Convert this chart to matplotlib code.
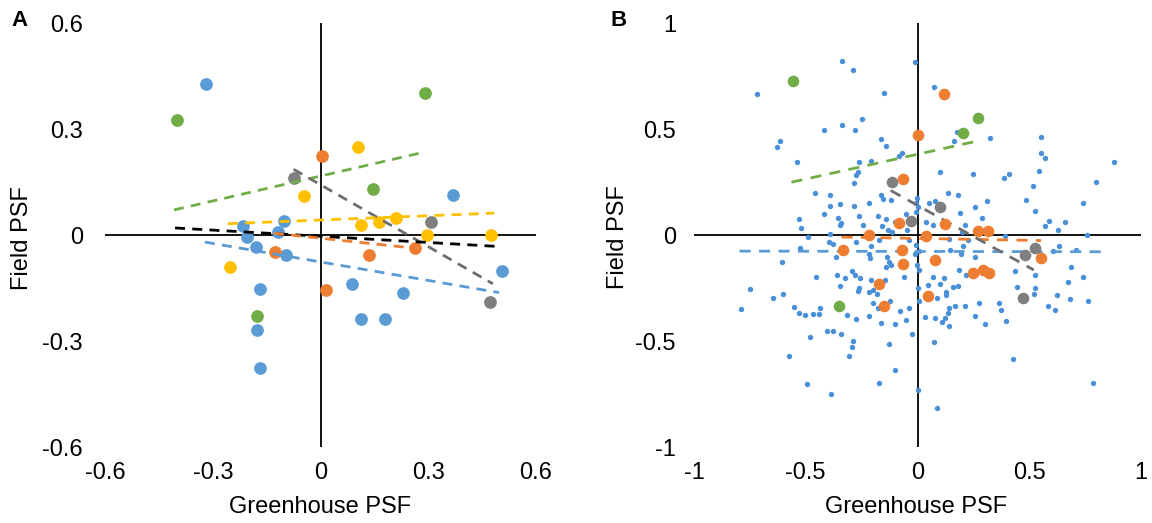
import matplotlib
matplotlib.use("Agg")
import matplotlib.pyplot as plt

plt.rcParams['font.family'] = ['Liberation Sans', 'DejaVu Sans']

# ---------------- Panel A data ----------------
a_blue_x = [-0.318, -0.215, -0.204, -0.179, -0.102, -0.118, -0.097, -0.168, -0.178, -0.169,
            0.088, 0.113, 0.180, 0.230, 0.368, 0.506]
a_blue_y = [0.427, 0.026, -0.007, -0.033, 0.041, 0.008, -0.058, -0.154, -0.270, -0.377,
            -0.138, -0.239, -0.239, -0.165, 0.113, -0.103]
a_green_x = [-0.400, 0.290, 0.146, -0.178]
a_green_y = [0.326, 0.402, 0.131, -0.228]
a_orange_x = [0.004, -0.128, 0.136, 0.262, 0.014]
a_orange_y = [0.223, -0.048, -0.058, -0.037, -0.156]
a_yellow_x = [0.104, -0.045, 0.114, 0.162, 0.209, 0.297, 0.475, -0.253]
a_yellow_y = [0.250, 0.109, 0.027, 0.036, 0.049, 0.000, 0.000, -0.091]
a_gray_x = [-0.074, 0.307, 0.473]
a_gray_y = [0.160, 0.038, -0.190]

# trend lines A: (x start, x end), (y start, y end)
a_trend_names = ['green', 'gray', 'yellow', 'black', 'orange', 'blue']
a_trend_x0 = [-0.408, -0.075, -0.258, -0.405, -0.130, -0.322]
a_trend_x1 = [0.282, 0.480, 0.484, 0.486, 0.268, 0.497]
a_trend_y0 = [0.071, 0.186, 0.032, 0.020, 0.005, -0.020]
a_trend_y1 = [0.233, -0.138, 0.062, -0.032, -0.038, -0.163]

# ---------------- Panel B data ----------------
b_blue_x = [
    -0.339, -0.290, -0.720, -0.151, -0.250, -0.418, -0.339, -0.278, -0.162, -0.140,
    -0.617, -0.628, -0.541, -0.260, -0.208, -0.265, -0.275, -0.085,
    -0.011, 0.072, 0.177, 0.162, 0.324, 0.554, 0.554, 0.570, -0.071, 0.102, 0.247, 0.408, 0.542,
    -0.284, -0.457, -0.390, -0.163, -0.153, -0.120, -0.217, -0.348, -0.390, -0.284,
    -0.420, -0.356, -0.263, -0.175, -0.142, -0.529, -0.341, -0.345, -0.520, -0.243,
    -0.160, -0.133, -0.114, -0.390, -0.490, -0.396, -0.378, -0.274, -0.174, -0.207,
    -0.524, -0.365, -0.218, -0.211, -0.135, -0.126, -0.141, -0.120, -0.605, -0.293,
    -0.278, -0.256, -0.360, -0.324, -0.453, -0.348, -0.263, -0.207, -0.147, -0.751,
    -0.647, -0.603, -0.790, -0.554, -0.530, -0.505, -0.469, -0.439, -0.436, -0.266,
    -0.218, -0.200, -0.181, -0.198, -0.175, -0.122, -0.315, -0.274, -0.216, -0.163,
    -0.102, -0.405, -0.378, -0.344, -0.482, -0.287, -0.293, -0.306, -0.576, -0.128,
    -0.101, -0.496, -0.386, -0.171,
    0.386, 0.515, 0.138, 0.180, 0.310, 0.485, -0.002, 0.050, 0.080, 0.001,
    -0.007, 0.259, 0.190, 0.289, 0.527, 0.661, 0.590, 0.569, 0.630, -0.102,
    -0.047, 0.142, 0.225, 0.393, 0.202, 0.147, 0.005, 0.257, 0.632, 0.608,
    -0.002, 0.008, 0.068, 0.117, 0.157, 0.184, 0.217, 0.436, 0.527, 0.672, 0.048,
    0.004, 0.128, 0.128, 0.444, 0.524, 0.521, 0.623, 0.684, -0.078, -0.038,
    0.005, 0.086, 0.142, 0.136, 0.122, 0.078, 0.110, 0.169, 0.214, 0.275,
    0.366, 0.374, 0.259, 0.301, 0.396, 0.142, 0.032, -0.051, 0.584, 0.614,
    -0.026, 0.072, 0.429, 0.001, 0.086,
    0.877, 0.797, 0.742, 0.757, 0.708, 0.686, 0.742, 0.761, 0.786,
    -0.007, 0.068, 0.199, 0.214, -0.037, -0.007, -0.012, 0.195, 0.100, 0.180,
    -0.060, -0.050, 0.040]
b_blue_y = [
    0.821, 0.779, 0.667, 0.670, 0.545, 0.496, 0.517, 0.496, 0.454, 0.419,
    0.444, 0.417, 0.344, 0.342, 0.349, 0.296, 0.285, 0.373,
    0.816, 0.700, 0.484, 0.444, 0.457, 0.462, 0.385, 0.363, 0.388, 0.295, 0.287, 0.286, 0.303,
    0.245, 0.198, 0.188, 0.187, 0.168, 0.166, 0.151, 0.146, 0.135, 0.138,
    0.100, 0.082, 0.091, 0.091, 0.074, 0.077, 0.058, 0.046, 0.033, 0.046,
    0.044, 0.022, 0.016, 0.006, -0.008, -0.033, -0.041, -0.032, -0.025, -0.052,
    -0.063, -0.105, -0.089, -0.110, -0.105, -0.129, -0.149, -0.141, -0.127, -0.168,
    -0.188, -0.204, -0.190, -0.201, -0.198, -0.239, -0.251, -0.213, -0.213, -0.253,
    -0.295, -0.276, -0.350, -0.338, -0.366, -0.378, -0.371, -0.371, -0.342, -0.262,
    -0.270, -0.258, -0.278, -0.323, -0.345, -0.311, -0.375, -0.397, -0.380, -0.413,
    -0.418, -0.451, -0.454, -0.465, -0.480, -0.498, -0.526, -0.570, -0.572, -0.512,
    -0.635, -0.702, -0.752, -0.696,
    0.267, 0.231, 0.196, 0.190, 0.162, 0.166, 0.174, 0.149, 0.162, 0.130,
    0.107, 0.133, 0.105, 0.082, 0.113, 0.060, 0.068, 0.044, 0.022, 0.060,
    0.022, -0.020, -0.024, -0.003, -0.050, -0.071, -0.077, -0.102, -0.052, -0.075,
    -0.141, -0.165, -0.197, -0.204, -0.246, -0.165, -0.187, -0.168, -0.190, -0.223, -0.236,
    -0.248, -0.270, -0.283, -0.243, -0.251, -0.278, -0.284, -0.300, -0.358, -0.344,
    -0.311, -0.298, -0.342, -0.367, -0.392, -0.392, -0.411, -0.333, -0.333, -0.323,
    -0.322, -0.355, -0.380, -0.419, -0.404, -0.427, -0.388, -0.402, -0.334, -0.355,
    -0.469, -0.507, -0.584, -0.733, -0.816,
    0.342, 0.249, 0.153, 0.000, -0.071, -0.151, -0.198, -0.312, -0.696,
    0.149, 0.047, 0.013, 0.047, -0.024, -0.047, -0.090, -0.090, -0.230, -0.240,
    -0.200, 0.100, 0.060]

b_green_x = [-0.557, 0.271, 0.204, -0.353]
b_green_y = [0.728, 0.553, 0.482, -0.337]
b_orange_x = [0.118, 0.002, -0.064, -0.082, 0.124, -0.217, 0.039, 0.271, 0.317, -0.335,
              -0.069, -0.065, 0.078, 0.248, 0.291, 0.320, -0.173, -0.150, 0.046, 0.552]
b_orange_y = [0.666, 0.474, 0.265, 0.057, 0.050, 0.002, -0.005, 0.017, 0.020, -0.072,
              -0.072, -0.139, -0.118, -0.178, -0.165, -0.181, -0.233, -0.335, -0.290, -0.110]
b_gray_x = [-0.113, -0.029, 0.100, 0.480, 0.525, 0.474]
b_gray_y = [0.252, 0.065, 0.134, -0.093, -0.060, -0.296]

b_trend_names = ['blue', 'orange', 'green', 'gray']
b_trend_x0 = [-0.796, -0.340, -0.564, -0.120]
b_trend_x1 = [0.830, 0.553, 0.258, 0.520]
b_trend_y0 = [-0.076, -0.010, 0.249, 0.210]
b_trend_y1 = [-0.079, -0.026, 0.441, -0.165]

a_ticks = [-0.6, -0.3, 0, 0.3, 0.6]
a_ticklabels = ['-0.6', '-0.3', '0', '0.3', '0.6']
b_ticks = [-1, -0.5, 0, 0.5, 1]
b_ticklabels = ['-1', '-0.5', '0', '0.5', '1']

# ---------------- styling ----------------
COL = {'blue': '#5B9BD5', 'orange': '#ED7D31', 'gray': '#7F7F7F',
       'yellow': '#FFC000', 'green': '#70AD47', 'black': '#000000'}
LINECOL = dict(COL)
LINECOL['gray'] = '#6E6E6E'

W, H = 1152, 523
FS = 17
fig = plt.figure(figsize=(W / 100, H / 100), dpi=100)


def px_axes(x0, x1, y0, y1):
    return fig.add_axes([x0 / W, 1 - y1 / H, (x1 - x0) / W, (y1 - y0) / H])


def setup(ax, lim, ticks, labels, ypad):
    ax.set_xlim(lim)
    ax.set_ylim(lim)
    for s in ax.spines.values():
        s.set_visible(False)
    ax.axhline(0, color='black', lw=1.3, zorder=1)
    ax.axvline(0, color='black', lw=1.3, zorder=1)
    ax.set_xticks(ticks)
    ax.set_xticklabels(labels)
    ax.set_yticks(ticks)
    ax.set_yticklabels(labels)
    ax.tick_params(axis='both', length=0, labelsize=FS)
    ax.tick_params(axis='x', pad=10.5)
    ax.tick_params(axis='y', pad=ypad)
    ax.set_facecolor('none')


DASH = (0, (3.6, 2.6))

# Panel A
axA = px_axes(105, 536, 23, 447)
setup(axA, (-0.6, 0.6), a_ticks, a_ticklabels, 16)
SA = 84
axA.scatter(a_blue_x, a_blue_y, s=SA, color=COL['blue'], lw=0, zorder=3)
axA.scatter(a_green_x, a_green_y, s=SA, color=COL['green'], lw=0, zorder=3)
axA.scatter(a_orange_x, a_orange_y, s=SA, color=COL['orange'], lw=0, zorder=3)
axA.scatter(a_yellow_x, a_yellow_y, s=SA, color=COL['yellow'], lw=0, zorder=3)
axA.scatter(a_gray_x, a_gray_y, s=SA, color=COL['gray'], lw=0, zorder=3)
for name, x0, x1, y0, y1 in zip(a_trend_names, a_trend_x0, a_trend_x1, a_trend_y0, a_trend_y1):
    axA.plot([x0, x1], [y0, y1], color=LINECOL[name], lw=2.0, linestyle=DASH, zorder=4)

# Panel B
axB = px_axes(694, 1141, 23, 447)
setup(axB, (-1, 1), b_ticks, b_ticklabels, 13)
axB.scatter(b_blue_x, b_blue_y, s=15, color='#4A90D9', lw=0, zorder=2)
for name, x0, x1, y0, y1 in zip(b_trend_names, b_trend_x0, b_trend_x1, b_trend_y0, b_trend_y1):
    axB.plot([x0, x1], [y0, y1], color=LINECOL[name], lw=2.0, linestyle=(0, (4.0, 3.0)), zorder=3)
SB = 70
axB.scatter(b_green_x, b_green_y, s=SB, color=COL['green'], lw=0, zorder=4)
axB.scatter(b_orange_x, b_orange_y, s=SB, color=COL['orange'], lw=0, zorder=4)
axB.scatter(b_gray_x, b_gray_y, s=SB, color=COL['gray'], lw=0, zorder=4)


# Axis titles and panel letters
def ftext(x, y, s, **kw):
    fig.text(x / W, 1 - y / H, s, **kw)


ftext(22, 238, 'Field PSF', rotation=90, ha='center', va='center', fontsize=FS)
ftext(320, 507, 'Greenhouse PSF', ha='center', va='center', fontsize=FS)
ftext(618, 237, 'Field PSF', rotation=90, ha='center', va='center', fontsize=FS)
ftext(916, 507, 'Greenhouse PSF', ha='center', va='center', fontsize=FS)
ftext(20, 20, 'A', ha='center', va='center', fontsize=16, fontweight='bold')
ftext(619, 20, 'B', ha='center', va='center', fontsize=16, fontweight='bold')

fig.savefig('out.png', dpi=100)
